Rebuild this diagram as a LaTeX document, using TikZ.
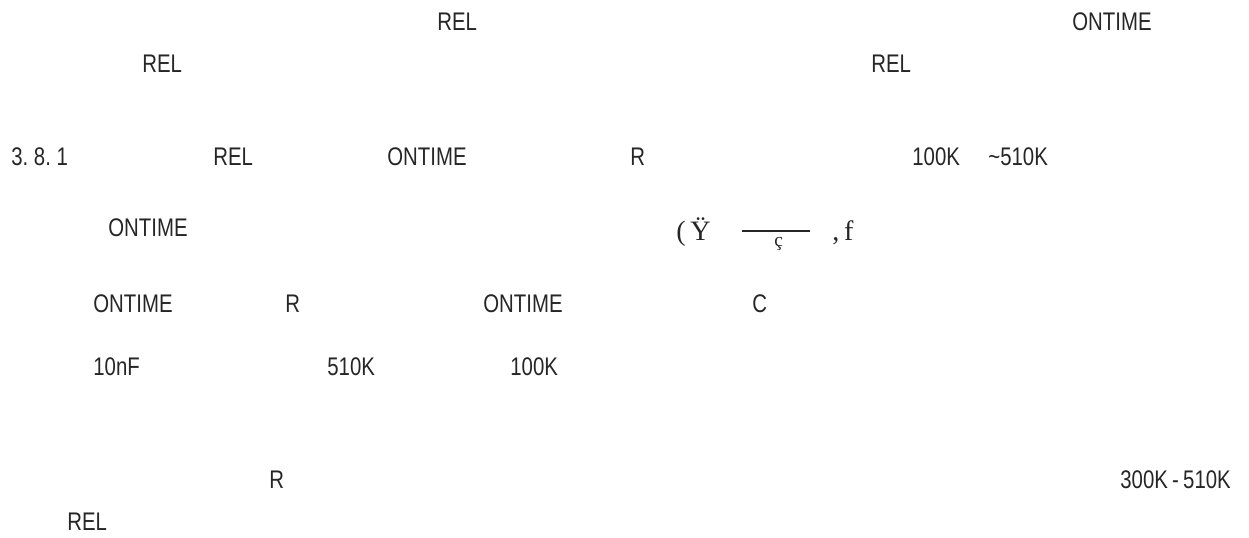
\documentclass[tikz,border=0pt]{standalone}
\usepackage{fontspec}
\setmainfont{Liberation Sans}[FakeStretch=0.8]
\newfontfamily\symfont{Liberation Serif}
\begin{document}
\begin{tikzpicture}[x=0.02cm,y=-0.02cm,
	txt/.style={anchor=base west,inner sep=0pt,text=black!85,font=\fontsize{14.5}{17}\selectfont},
	sym/.style={anchor=base west,inner sep=0pt,text=black!85,font=\symfont\fontsize{16}{18}\selectfont},
	symsmall/.style={sym,font=\symfont\fontsize{11}{12}\selectfont}]
	\useasboundingbox (0,0) rectangle (1249,538);
	% first lines
	\node[txt] (relA) at (437,30) {REL};
	\node[txt] (ontA) at (1072,30) {ONTIME};
	\node[txt] (relB) at (142,72) {REL};
	\node[txt] (relC) at (871,72) {REL};
	% 3.8.1
	\node[txt] (sec) at (11,165) {3.\ 8.\ 1};
	\node[txt] (relD) at (213,165) {REL};
	\node[txt] (ontB) at (387,165) {ONTIME};
	\node[txt] (rA) at (630,165) {R};
	\node[txt] (lo) at (912,165) {100K};
	\node[txt] (hi) at (988,165) {\textasciitilde510K};
	% broken formula
	\node[txt] (ontC) at (108,236) {ONTIME};
	\node[sym] (yd) at (676,240) {(\,Ÿ};
	\coordinate (barL) at (742,231);
	\coordinate (barR) at (810,231);
	\draw[line width=0.9pt,black!85] (barL) -- (barR);
	\node[symsmall] (cc) at (774,246) {ç};
	\node[sym] (ff) at (832,240) {,\,f};
	% values
	\node[txt] (ontD) at (93,312) {ONTIME};
	\node[txt] (rB) at (285,312) {R};
	\node[txt] (ontE) at (483,312) {ONTIME};
	\node[txt] (cap) at (752,312) {C};
	\node[txt] (nf) at (93,375) {10nF};
	\node[txt] (rhi) at (327,375) {510K};
	\node[txt] (rlo) at (510,375) {100K};
	% last lines
	\node[txt] (rC) at (269,488) {R};
	\node[txt] (rng) at (1120,488) {300K\,-\,510K};
	\node[txt] (relE) at (67,530) {REL};
\end{tikzpicture}
\end{document}
